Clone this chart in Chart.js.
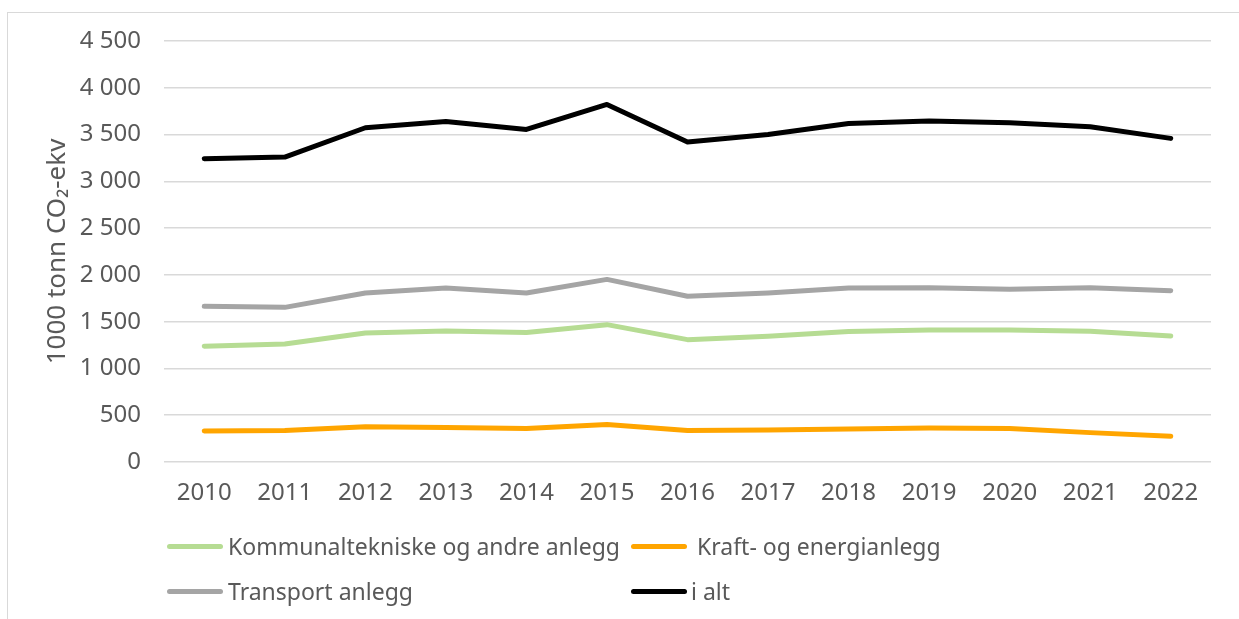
<!DOCTYPE html>
<html>
<head>
    <title>Utslipp anlegg</title>
    <script src="https://cdn.jsdelivr.net/npm/chart.js"></script>
    <style>
        body {
            margin: 0;
            background: #fff;
            font-family: "Noto Sans", sans-serif;
        }
        .wrap {
            position: relative;
            width: 1239px;
            height: 619px;
            overflow: hidden;
        }
        .frame {
            position: absolute;
            left: 7px;
            top: 12px;
            width: 1300px;
            height: 700px;
            border: 1.5px solid #d9d9d9;
        }
        canvas {
            position: absolute;
            left: 0;
            top: 0;
        }
        .legend-item {
            position: absolute;
            display: flex;
            align-items: center;
            height: 30px;
            color: #595959;
            font-size: 23px;
            white-space: nowrap;
        }
        .legend-item span.swatch {
            display: inline-block;
            width: 56px;
            height: 5px;
            border-radius: 3px;
            margin-right: 5px;
        }
    </style>
</head>
<body>
<div class="wrap">
    <div class="frame"></div>
    <canvas id="chart" width="1239" height="619"></canvas>
    <div id="legend"></div>
</div>
<script>
    const years = ['2010', '2011', '2012', '2013', '2014', '2015', '2016', '2017', '2018', '2019', '2020', '2021', '2022'];

    // 1000 tonn CO2-ekv
    const kommunalteknisk = [1237, 1262, 1379, 1400, 1383, 1468, 1308, 1344, 1394, 1411, 1411, 1397, 1347];
    const kraftEnergi = [332, 336, 378, 368, 357, 400, 336, 343, 354, 364, 357, 314, 275];
    const transport = [1664, 1653, 1806, 1860, 1806, 1952, 1771, 1806, 1860, 1863, 1846, 1863, 1831];
    const iAlt = [3242, 3259, 3573, 3640, 3555, 3822, 3420, 3500, 3619, 3644, 3626, 3583, 3459];

    const yTicks = [0, 500, 1000, 1500, 2000, 2500, 3000, 3500, 4000, 4500];

    const textColor = '#595959';
    const gridColor = '#d9d9d9';

    function line(label, data, color) {
        return {
            label: label,
            data: data,
            borderColor: color,
            backgroundColor: color,
            borderWidth: 5,
            borderCapStyle: 'round',
            borderJoinStyle: 'round',
            pointRadius: 0,
            pointHoverRadius: 0,
            tension: 0,
            fill: false
        };
    }

    const chart = new Chart(document.getElementById('chart'), {
        type: 'line',
        data: {
            labels: years,
            datasets: [
                line('Kommunaltekniske og andre anlegg', kommunalteknisk, '#b6dc93'),
                line('Kraft- og energianlegg', kraftEnergi, '#ffa500'),
                line('Transport anlegg', transport, '#a5a5a5'),
                line('i alt', iAlt, '#000000')
            ]
        },
        options: {
            responsive: false,
            animation: false,
            layout: {
                padding: { left: 0, right: 28, top: 41, bottom: 0 }
            },
            plugins: {
                legend: { display: false },
                tooltip: { enabled: false }
            },
            scales: {
                x: {
                    offset: true,
                    border: { display: false },
                    grid: { display: false, drawTicks: false },
                    ticks: {
                        color: textColor,
                        padding: 17,
                        maxRotation: 0,
                        font: { family: 'Noto Sans', size: 24 }
                    },
                    afterFit: scale => { scale.height = 157; }
                },
                y: {
                    min: 0,
                    max: 4500,
                    border: { display: false },
                    grid: { color: gridColor, lineWidth: 1.5, drawTicks: false },
                    afterBuildTicks: scale => {
                        scale.ticks = yTicks.map(v => ({ value: v }));
                    },
                    ticks: {
                        color: textColor,
                        padding: 23,
                        font: { family: 'Noto Sans', size: 24 },
                        callback: v => String(v).replace(/\B(?=(\d{3})+(?!\d))/g, ' ')
                    },
                    title: {
                        display: true,
                        text: '1000 tonn CO₂-ekv',
                        color: textColor,
                        padding: { top: 42, bottom: 0 },
                        font: { family: 'Noto Sans', size: 26 }
                    },
                    afterFit: scale => { scale.width = 164; }
                }
            }
        }
    });

    // Legend in two columns, the way the original lays it out
    const legendSlots = [
        { left: 167, top: 531, gap: 5 },
        { left: 631, top: 531, gap: 10 },
        { left: 167, top: 576, gap: 5 },
        { left: 631, top: 576, gap: 4 }
    ];
    const legendEl = document.getElementById('legend');
    chart.data.datasets.forEach((ds, i) => {
        const item = document.createElement('div');
        item.className = 'legend-item';
        item.style.left = legendSlots[i].left + 'px';
        item.style.top = legendSlots[i].top + 'px';
        const swatch = document.createElement('span');
        swatch.className = 'swatch';
        swatch.style.background = ds.borderColor;
        swatch.style.marginRight = legendSlots[i].gap + 'px';
        item.appendChild(swatch);
        item.appendChild(document.createTextNode(ds.label));
        legendEl.appendChild(item);
    });
</script>
</body>
</html>
